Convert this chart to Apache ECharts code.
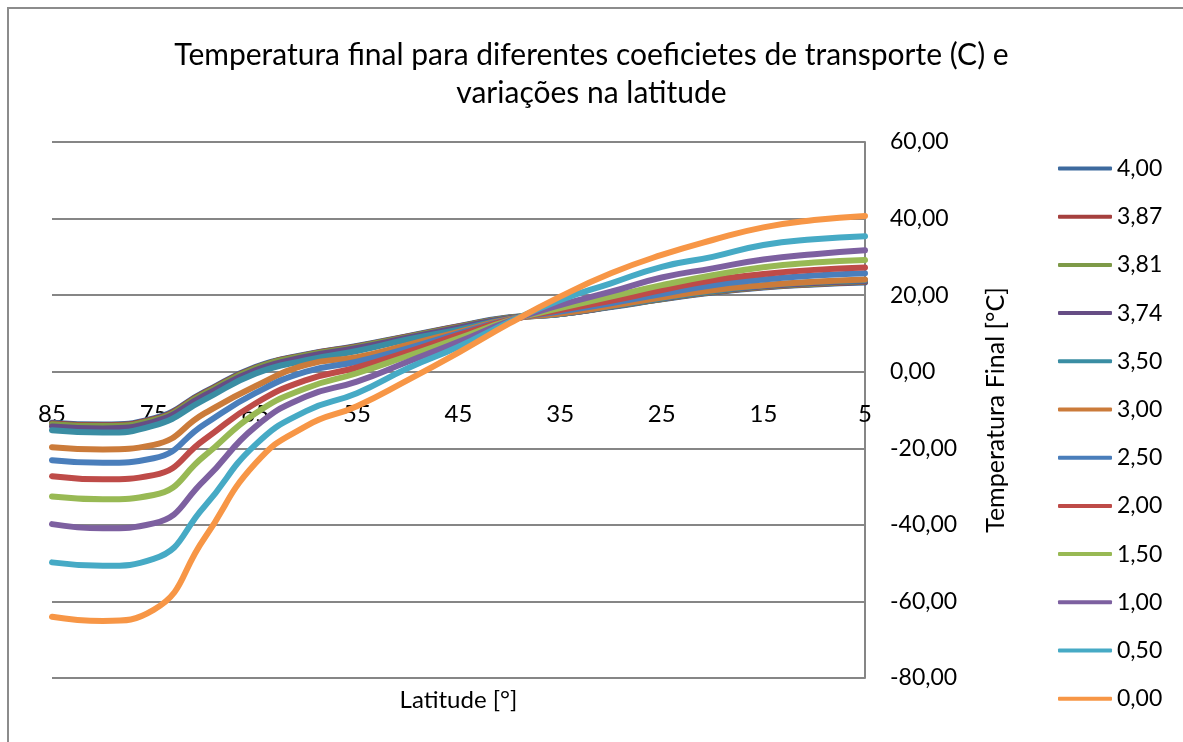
<!DOCTYPE html>
<html>
<head>
<meta charset="utf-8">
<script src="https://cdn.jsdelivr.net/npm/echarts@6/dist/echarts.min.js"></script>
<style>
  html, body { margin: 0; padding: 0; background: #fff; }
  #chart { width: 1183px; height: 742px; }
</style>
</head>
<body>
<div id="chart"></div>
<script>
// latitudes, read right to left on the chart (85 -> 5)
var latitudes = [85, 80, 75, 70, 65, 60, 55, 50, 45, 40, 35, 30, 25, 20, 15, 10, 5]

// transport coefficients C (legend order)
var coefNames = ['4,00', '3,87', '3,81', '3,74', '3,50', '3,00', '2,50', '2,00', '1,50', '1,00', '0,50', '0,00']

var t400 = [-13.3, -13.8, -12.2, -5.3, 1.2, 4.5, 6.7, 9.3, 11.9, 14.2, 15.1, 16.9, 18.9, 20.7, 22.0, 22.8, 23.3]
var t387 = [-13.5, -14.0, -12.4, -5.5, 1.0, 4.4, 6.6, 9.2, 11.8, 14.1, 15.1, 17.0, 19.0, 20.8, 22.1, 22.9, 23.5]
var t381 = [-13.7, -14.2, -12.6, -5.7, 0.9, 4.3, 6.5, 9.1, 11.7, 14.1, 15.1, 17.0, 19.0, 20.9, 22.2, 23.0, 23.6]
var t374 = [-14.3, -14.8, -13.1, -6.2, 0.4, 3.9, 6.2, 8.9, 11.5, 14.0, 15.1, 17.0, 19.1, 21.0, 22.3, 23.2, 23.7]
var t350 = [-15.3, -15.9, -14.1, -7.3, -0.5, 3.0, 5.4, 8.4, 11.0, 13.8, 15.1, 17.1, 19.2, 21.1, 22.5, 23.4, 23.9]
var t300 = [-19.7, -20.3, -19.1, -10.9, -3.8, 1.8, 3.8, 7.0, 10.4, 13.7, 15.2, 17.2, 19.4, 21.3, 22.6, 23.5, 24.1]
var t250 = [-23.1, -23.8, -22.6, -13.7, -5.6, 0.0, 2.6, 6.1, 10.0, 13.6, 15.7, 17.9, 20.3, 22.6, 24.1, 25.1, 25.7]
var t200 = [-27.3, -28.1, -27.0, -17.7, -8.3, -2.2, 1.1, 5.2, 9.6, 13.5, 16.1, 18.5, 21.3, 23.9, 25.5, 26.6, 27.2]
var t150 = [-32.6, -33.3, -32.2, -22.0, -10.9, -4.3, -0.4, 4.1, 8.7, 13.4, 16.6, 19.6, 22.6, 25.2, 27.3, 28.5, 29.2]
var t100 = [-39.8, -40.9, -39.6, -28.3, -14.4, -6.5, -2.6, 2.6, 7.8, 13.2, 17.4, 20.9, 24.6, 27.0, 29.3, 30.7, 31.7]
var t050 = [-49.8, -50.7, -48.9, -35.2, -19.1, -10.3, -5.6, 0.9, 6.5, 13.0, 18.7, 23.1, 27.4, 30.0, 33.1, 34.6, 35.4]
var t000 = [-64.0, -65.1, -62.2, -43.5, -24.0, -14.2, -9.0, -2.2, 5.0, 12.6, 19.6, 25.7, 30.5, 34.4, 37.7, 39.6, 40.7]

var seriesData = [t400, t387, t381, t374, t350, t300, t250, t200, t150, t100, t050, t000]

var colors = ['#3d6a9e', '#a5403e', '#7e9a48', '#664d85', '#3a8da3', '#cb7b3a',
              '#4a7ebb', '#be4b48', '#98b954', '#7d60a0', '#46aac5', '#f79646']

var fontFamily = 'Lato, "Open Sans", sans-serif'

var chart = echarts.init(document.getElementById('chart'))

var titleStyle = {
  fontFamily: fontFamily,
  fontSize: 30,
  fontWeight: 'normal',
  color: '#000'
}

var option = {
  color: colors,
  animation: false,
  textStyle: { fontFamily: fontFamily, color: '#000' },
  title: [
    {
      text: 'Temperatura final para diferentes coeficietes de transporte (C) e',
      left: 'center',
      top: 40,
      padding: [0, 0, 0, 10],
      textStyle: titleStyle
    },
    {
      text: 'variações na latitude',
      left: 'center',
      top: 78,
      padding: [0, 0, 0, 10],
      textStyle: titleStyle
    }
  ],
  legend: {
    orient: 'vertical',
    left: 1053,
    top: 151.5,
    itemWidth: 54,
    itemHeight: 4,
    itemGap: 24.2,
    icon: 'roundRect',
    textStyle: { fontFamily: fontFamily, fontSize: 23, color: '#000', lineHeight: 24 },
    data: coefNames
  },
  grid: {
    left: 52,
    right: 318,
    top: 142,
    bottom: 64
  },
  xAxis: [
    {
      type: 'category',
      data: latitudes,
      boundaryGap: false,
      position: 'bottom',
      offset: -306.6,
      axisLine: { show: false },
      axisTick: { show: false },
      axisLabel: {
        interval: 1,
        margin: 31,
        fontSize: 24,
        color: '#000',
        fontFamily: fontFamily
      },
      splitLine: { show: false }
    },
    {
      type: 'category',
      data: latitudes,
      boundaryGap: false,
      position: 'bottom',
      name: 'Latitude [°]',
      nameLocation: 'middle',
      nameGap: 10,
      nameTextStyle: { fontSize: 24, color: '#000', fontFamily: fontFamily },
      axisLine: { show: false },
      axisTick: { show: false },
      axisLabel: { show: false },
      splitLine: { show: false }
    }
  ],
  yAxis: {
    type: 'value',
    position: 'right',
    min: -80,
    max: 60,
    interval: 20,
    name: 'Temperatura Final [°C]',
    nameLocation: 'middle',
    nameRotate: 90,
    nameGap: 118,
    nameTextStyle: { fontSize: 25, color: '#000', fontFamily: fontFamily },
    axisLine: { show: true, lineStyle: { color: '#868686', width: 2 } },
    axisTick: { show: true, inside: true, length: 5, lineStyle: { color: '#868686', width: 2 } },
    axisLabel: {
      margin: 25,
      fontSize: 23,
      color: '#000',
      fontFamily: fontFamily,
      formatter: function (v) { return v.toFixed(2).replace('.', ',') }
    },
    splitLine: { show: true, lineStyle: { color: '#868686', width: 2 } }
  },
  graphic: [
    {
      type: 'rect',
      shape: { x: 8, y: 8, width: 1200, height: 760 },
      style: { fill: 'none', stroke: '#8c8c8c', lineWidth: 2 },
      silent: true
    }
  ],
  series: coefNames.map(function (name, i) {
    return {
      name: name,
      type: 'line',
      xAxisIndex: 0,
      data: seriesData[i],
      smooth: 0.5,
      symbol: 'none',
      lineStyle: { width: 6, cap: 'round', join: 'round' }
    }
  })
}

chart.setOption(option)
</script>
</body>
</html>
